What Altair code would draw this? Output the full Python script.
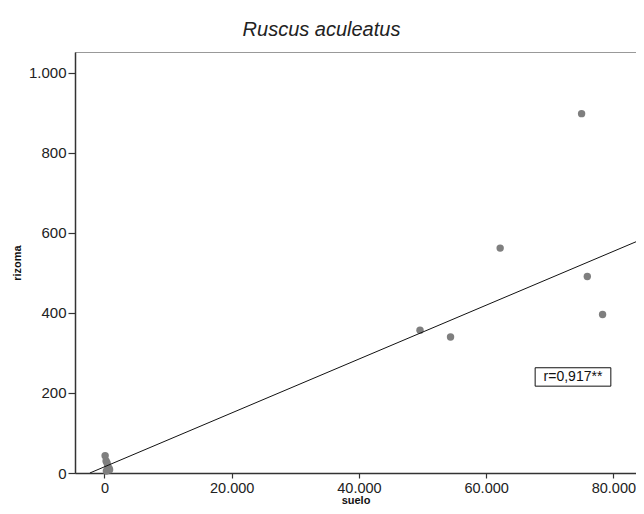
import altair as alt
import pandas as pd

# data
suelo = [49600, 54400, 62200, 75000, 75900, 78300, 100, 250, 400, 500, 700, 800, 300]
rizoma = [357, 340, 562, 898, 491, 396, 43, 30, 25, 18, 12, 8, 5]

# fit line (as drawn in the reference)
fit_x = [-2300, 84400]
fit_intercept = 15.5
fit_slope = 0.00673

x_ticks = [0, 20000, 40000, 60000, 80000]
y_ticks = [0, 200, 400, 600, 800, 1000]
x_domain = [-4637, 83555]
y_domain = [0, 1052]

r_text = ["r=0,917**"]
r_pos_x = [73650]
r_pos_y = [240]
box_x = [67700]
box_x2 = [79600]
box_y = [217]
box_y2 = [263]

pts = pd.DataFrame({"suelo": suelo, "rizoma": rizoma})
fit = pd.DataFrame({"suelo": fit_x, "rizoma": [fit_intercept + fit_slope * v for v in fit_x]})
lab = pd.DataFrame({"x": r_pos_x, "y": r_pos_y, "t": r_text})
box = pd.DataFrame({"x": box_x, "x2": box_x2, "y": box_y, "y2": box_y2})

fmt = "replace(format(datum.value, ','), ',', '.')"

xs = alt.Scale(domain=x_domain, nice=False, zero=False)
ys = alt.Scale(domain=y_domain, nice=False, zero=False)

xaxis = alt.Axis(values=x_ticks, labelExpr=fmt, title="suelo", grid=False,
                 tickSize=5, labelPadding=3, titlePadding=0, labelFontSize=14.5)
yaxis = alt.Axis(values=y_ticks, labelExpr=fmt, title="rizoma", grid=False,
                 tickSize=7, labelPadding=2, titlePadding=6)

points = alt.Chart(pts).mark_circle(size=55, color="#7f7f7f", opacity=1).encode(
    x=alt.X("suelo:Q", scale=xs, axis=xaxis),
    y=alt.Y("rizoma:Q", scale=ys, axis=yaxis),
)

line = alt.Chart(fit).mark_line(color="#111111", strokeWidth=1, clip=True).encode(
    x=alt.X("suelo:Q", scale=xs),
    y=alt.Y("rizoma:Q", scale=ys),
)

rect = alt.Chart(box).mark_rect(fill="white", stroke="#111111", strokeWidth=1).encode(
    x=alt.X("x:Q", scale=xs), x2="x2:Q",
    y=alt.Y("y:Q", scale=ys), y2="y2:Q",
)

text = alt.Chart(lab).mark_text(font="Liberation Sans", fontSize=14, color="#111111").encode(
    x=alt.X("x:Q", scale=xs),
    y=alt.Y("y:Q", scale=ys),
    text="t:N",
)

chart = alt.layer(points, line, rect, text).properties(
    width=561,
    height=421,
    padding={"left": 67, "top": 44, "right": 0, "bottom": 33},
    autosize=alt.AutoSizeParams(type="none"),
    title=alt.TitleParams(
        "Ruscus aculeatus", font="Liberation Sans", fontSize=20, fontStyle="italic",
        fontWeight="normal", color="#222222", anchor="middle", dx=-34, offset=-4,
        baseline="alphabetic",
    ),
).configure_view(stroke="#999999", strokeWidth=1).configure_axis(
    domainColor="#333333", domainWidth=1.5, tickColor="#333333", tickWidth=1.2,
    labelFont="Liberation Sans", labelFontSize=15, labelColor="#222222",
    titleFont="Liberation Sans", titleFontSize=11, titleFontWeight="bold", titleColor="#111111",
)

chart.save("out.html", embed_options={"renderer": "svg", "actions": False})
